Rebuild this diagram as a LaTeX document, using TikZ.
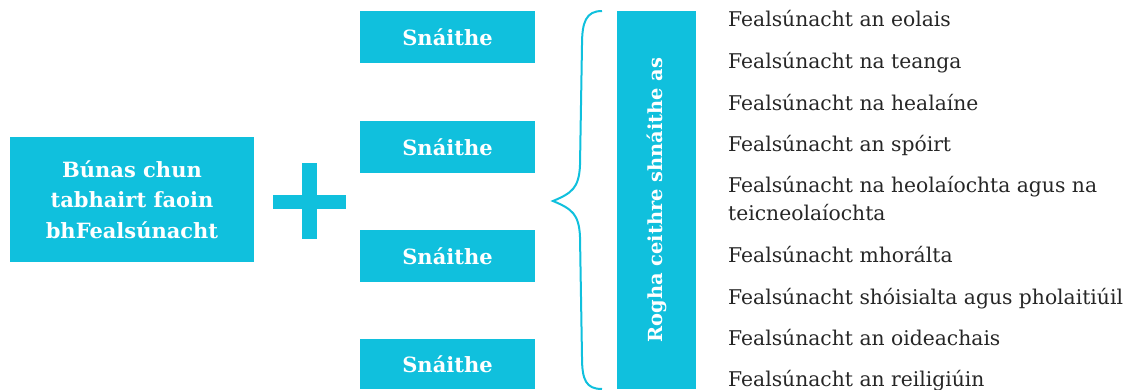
\documentclass[tikz,border=0pt]{standalone}
\usepackage{fontspec}
\setmainfont{DejaVu Serif}
\definecolor{cy}{HTML}{10C0DD}
\definecolor{tx}{HTML}{262626}
\begin{document}
\begin{tikzpicture}[x=1pt,y=-1pt,
  box/.style={fill=cy, inner sep=0pt, text=white, align=center,
    font=\bfseries\fontsize{21}{30.5}\selectfont},
  item/.style={anchor=base west, inner sep=0pt, text=tx, align=left,
    font=\fontsize{20.3}{28}\selectfont}]
\useasboundingbox (0,0) rectangle (1141,389);
% left box
\node[box, minimum width=244pt, minimum height=125pt] (base) at (132,199.5)
  {Búnas chun\\tabhairt faoin\\bhFealsúnacht};
% plus sign
\fill[cy] (302,163) rectangle (317,239);
\fill[cy] (273,195) rectangle (346,209);
% strand boxes
\node[box, minimum width=175pt, minimum height=52pt] (s1) at (447.5,37) {Snáithe};
\node[box, minimum width=175pt, minimum height=52pt] (s2) at (447.5,147) {Snáithe};
\node[box, minimum width=175pt, minimum height=52pt] (s3) at (447.5,256) {Snáithe};
\node[box, minimum width=175pt, minimum height=50pt] (s4) at (447.5,364) {Snáithe};
% brace
\draw[cy, line width=2pt]
  (602,11) .. controls (586,11) and (582,22) .. (582,45)
  -- (580,165) .. controls (579,188) and (572,193) .. (553,201)
  .. controls (572,209) and (579,214) .. (580,237)
  -- (582,357) .. controls (582,380) and (586,389) .. (602,389);
% tall box
\node[box, minimum width=79pt, minimum height=378pt] (choice) at (656.5,200) {};
\node[text=white, font=\bfseries\fontsize{19.4}{24}\selectfont, rotate=90, inner sep=0pt] (choicetxt) at (choice.center) {Rogha ceithre shnáithe as};
% list
\node[item] (t1) at (728,26.7) {Fealsúnacht an eolais};
\node[item] (t2) at (728,68.3) {Fealsúnacht na teanga};
\node[item] (t3) at (728,110) {Fealsúnacht na healaíne};
\node[item] (t4) at (728,151.7) {Fealsúnacht an spóirt};
\node[item] (t5) at (728,220.7) {Fealsúnacht na heolaíochta agus na\\teicneolaíochta};
\node[item] (t6) at (728,262.7) {Fealsúnacht mhorálta};
\node[item] (t7) at (728,304) {Fealsúnacht shóisialta agus pholaitiúil};
\node[item] (t8) at (728,345.3) {Fealsúnacht an oideachais};
\node[item] (t9) at (728,386) {Fealsúnacht an reiligiúin};
\end{tikzpicture}
\end{document}
